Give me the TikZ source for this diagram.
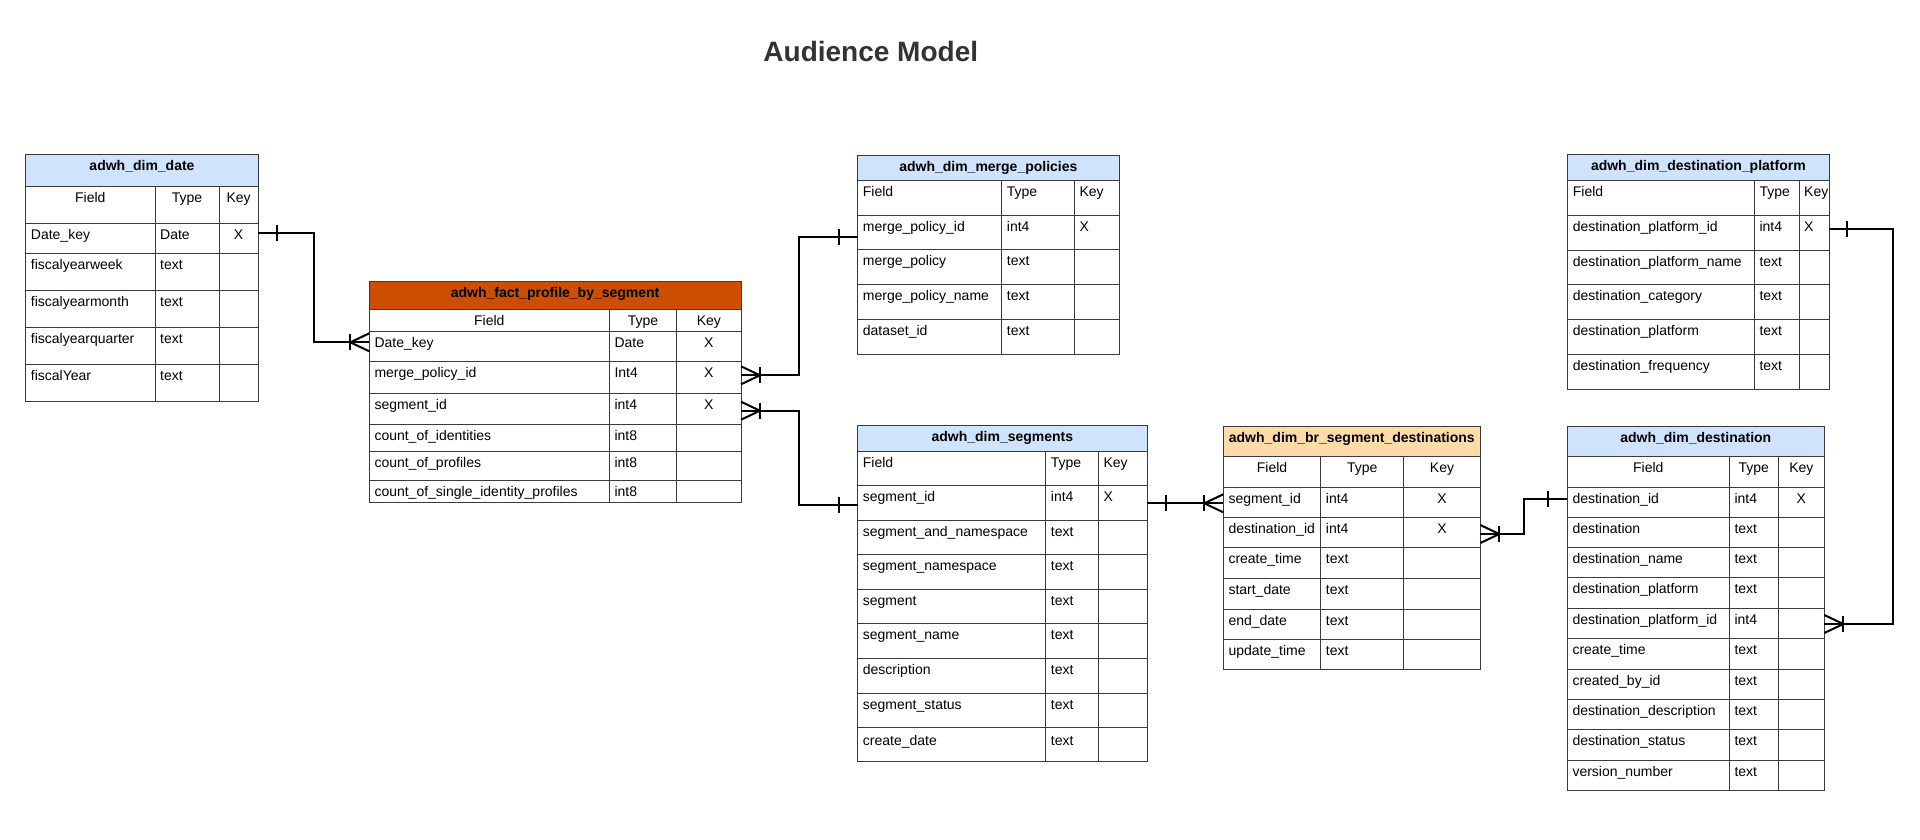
\documentclass[tikz,border=0pt]{standalone}
\usepackage{fontspec}
\setmainfont{Liberation Sans}
\usetikzlibrary{calc}
\definecolor{hblue}{HTML}{CFE3FD}
\definecolor{horange}{HTML}{CC4E00}
\definecolor{hpeach}{HTML}{FFDBA8}
\definecolor{linec}{HTML}{3A3A3A}
\definecolor{titlec}{HTML}{333333}

% table frame: #1 ytop, #2 yhead, #3 ybottom, #4 fill, #5 row lines, #6 name, #7 title
\newcommand\tframe[7]{%
  \fill[#4] (\xa,#1) rectangle (\xd,#2);
  \draw[tline] (\xa,#1) rectangle (\xd,#3);
  \draw[tline] (\xa,#2) -- (\xd,#2);
  \foreach \yy in {#5} {\draw[tline] (\xa,\yy) -- (\xd,\yy);}
  \foreach \xx in {\xb,\xc} {\draw[tline] (\xx,#2) -- (\xx,#3);}
  \node[hd,anchor=base] (#6) at ({(\xa+\xd)/2},#1+16) {#7};
}
\newcommand\hrowC[2]{%
  \node[tx,anchor=base] (#1F) at ({(\xa+\xb)/2},#2+16) {Field};
  \node[tx,anchor=base] (#1T) at ({(\xb+\xc)/2},#2+16) {Type};
  \node[tx,anchor=base] (#1K) at ({(\xc+\xd)/2},#2+16) {Key};
}
\newcommand\hrowL[2]{%
  \node[tx,anchor=base west] (#1F) at (\xa+5,#2+16) {Field};
  \node[tx,anchor=base west] (#1T) at (\xb+5,#2+16) {Type};
  \node[tx,anchor=base west] (#1K) at (\xc+5,#2+16) {Key};
}
\newcommand\drowC[5]{%
  \node[tx,anchor=base west] (#1f) at (\xa+5,#2+16) {#3};
  \node[tx,anchor=base west] (#1t) at (\xb+5,#2+16) {#4};
  \node[tx,anchor=base] (#1k) at ({(\xc+\xd)/2},#2+16) {#5};
}
\newcommand\drowL[5]{%
  \node[tx,anchor=base west] (#1f) at (\xa+5,#2+16) {#3};
  \node[tx,anchor=base west] (#1t) at (\xb+5,#2+16) {#4};
  \node[tx,anchor=base west] (#1k) at (\xc+5,#2+16) {#5};
}
\newcommand\onebar[2]{\draw[conn] ($(#1)+(#2,-8)$) -- ($(#1)+(#2,8)$);}
\newcommand\crowft[2]{\onebar{#1}{#2}%
  \draw[conn] ($(#1)+(0,-9)$) -- ($(#1)+(#2,0)$) -- ($(#1)+(0,9)$);}

\begin{document}
\begin{tikzpicture}[x=1pt,y=-1pt,
  tline/.style={draw=linec,line width=1pt},
  conn/.style={draw=black,line width=2pt},
  tx/.style={inner sep=0pt,font=\fontsize{14}{16}\selectfont},
  hd/.style={inner sep=0pt,font=\fontsize{14}{16}\selectfont\bfseries},
  ttl/.style={inner sep=0pt,font=\fontsize{28}{32}\selectfont\bfseries,text=titlec}]
\useasboundingbox (0,0) rectangle (1920,839);
\fill[white] (0,0) rectangle (1920,839);

\node[ttl,anchor=base] (title) at (870.8,61.7) {Audience Model};

% adwh_dim_date
\def\xa{25.7}\def\xb{155}\def\xc{219}\def\xd{258.3}
\tframe{154.3}{186}{401.7}{hblue}{223.3,253.3,290.3,327.3,364.3}{date}{adwh\_dim\_date}
\hrowC{dateh}{186}
\drowC{datea}{223.3}{Date\_key}{Date}{X}
\drowC{dateb}{253.3}{fiscalyearweek}{text}{}
\drowC{datec}{290.3}{fiscalyearmonth}{text}{}
\drowC{dated}{327.3}{fiscalyearquarter}{text}{}
\drowC{datee}{364.3}{fiscalYear}{text}{}

% adwh_fact_profile_by_segment
\def\xa{369.3}\def\xb{609.3}\def\xc{676.7}\def\xd{741}
\tframe{281.7}{309.3}{502.3}{horange}{331.7,361,393.3,424.3,451.7,480}{fact}{adwh\_fact\_profile\_by\_segment}
\hrowC{facth}{309.3}
\drowC{facta}{331.7}{Date\_key}{Date}{X}
\drowC{factb}{361}{merge\_policy\_id}{Int4}{X}
\drowC{factc}{393.3}{segment\_id}{int4}{X}
\drowC{factd}{424.3}{count\_of\_identities}{int8}{}
\drowC{facte}{451.7}{count\_of\_profiles}{int8}{}
\drowC{factf}{480}{count\_of\_single\_identity\_profiles}{int8}{}

% adwh_dim_merge_policies
\def\xa{857.7}\def\xb{1001.7}\def\xc{1074.3}\def\xd{1119}
\tframe{155}{180}{354.3}{hblue}{215,249.7,284.7,319.3}{merge}{adwh\_dim\_merge\_policies}
\hrowL{mergeh}{180}
\drowL{mergea}{215}{merge\_policy\_id}{int4}{X}
\drowL{mergeb}{249.7}{merge\_policy}{text}{}
\drowL{mergec}{284.7}{merge\_policy\_name}{text}{}
\drowL{merged}{319.3}{dataset\_id}{text}{}

% adwh_dim_segments
\def\xa{857.7}\def\xb{1045.7}\def\xc{1098.3}\def\xd{1147}
\tframe{425.7}{451}{761}{hblue}{485.7,520.3,554.7,589.3,623.7,658.3,693,727.3}{seg}{adwh\_dim\_segments}
\hrowL{segh}{451}
\drowL{sega}{485.7}{segment\_id}{int4}{X}
\drowL{segb}{520.3}{segment\_and\_namespace}{text}{}
\drowL{segc}{554.7}{segment\_namespace}{text}{}
\drowL{segd}{589.3}{segment}{text}{}
\drowL{sege}{623.7}{segment\_name}{text}{}
\drowL{segf}{658.3}{description}{text}{}
\drowL{segg}{693}{segment\_status}{text}{}
\drowL{segi}{729.3}{create\_date}{text}{}

% adwh_dim_br_segment_destinations
\def\xa{1223.3}\def\xb{1320.7}\def\xc{1403.7}\def\xd{1480.3}
\tframe{426}{456.7}{669}{hpeach}{487.3,517.3,547.7,578.3,609,639}{br}{adwh\_dim\_br\_segment\_destinations}
\hrowC{brh}{456.7}
\drowC{bra}{487.3}{segment\_id}{int4}{X}
\drowC{brb}{517.3}{destination\_id}{int4}{X}
\drowC{brc}{547.7}{create\_time}{text}{}
\drowC{brd}{578.3}{start\_date}{text}{}
\drowC{bre}{609}{end\_date}{text}{}
\drowC{brf}{639}{update\_time}{text}{}

% adwh_dim_destination_platform
\def\xa{1567.7}\def\xb{1754.3}\def\xc{1799}\def\xd{1829}
\tframe{154.3}{180}{389.3}{hblue}{215,250,284.7,319.7,354.3}{plat}{adwh\_dim\_destination\_platform}
\hrowL{plath}{180}
\drowL{plata}{215}{destination\_platform\_id}{int4}{X}
\drowL{platb}{250}{destination\_platform\_name}{text}{}
\drowL{platc}{284.7}{destination\_category}{text}{}
\drowL{platd}{319.7}{destination\_platform}{text}{}
\drowL{plate}{354.3}{destination\_frequency}{text}{}

% adwh_dim_destination
\def\xa{1567.3}\def\xb{1729.3}\def\xc{1778.3}\def\xd{1824.3}
\tframe{426}{456.7}{790}{hblue}{487.3,517.3,547.3,577.7,608.3,638.7,669,699.3,729.7,760}{dest}{adwh\_dim\_destination}
\hrowC{desth}{456.7}
\drowC{desta}{487.3}{destination\_id}{int4}{X}
\drowC{destb}{517.3}{destination}{text}{}
\drowC{destc}{547.3}{destination\_name}{text}{}
\drowC{destd}{577.7}{destination\_platform}{text}{}
\drowC{deste}{608.3}{destination\_platform\_id}{int4}{}
\drowC{destf}{638.7}{create\_time}{text}{}
\drowC{destg}{669}{created\_by\_id}{text}{}
\drowC{desti}{699.3}{destination\_description}{text}{}
\drowC{destj}{729.7}{destination\_status}{text}{}
\drowC{destk}{760}{version\_number}{text}{}

% connector end points
\coordinate (c1a) at (258.3,232.7);
\coordinate (c1b) at (369.3,342.3);
\coordinate (c2a) at (741,375.3);
\coordinate (c2b) at (857.7,236.7);
\coordinate (c3a) at (741,410.7);
\coordinate (c3b) at (857.7,505);
\coordinate (c4a) at (1147,503.3);
\coordinate (c4b) at (1223.3,503.3);
\coordinate (c5a) at (1480.3,534);
\coordinate (c5b) at (1567.3,499);
\coordinate (c6a) at (1829,229);
\coordinate (c6b) at (1824.3,624);
\coordinate (c6m) at (1892.7,624);

\draw[conn] (c1a) -| ($(c1a)!.5!(c1b)$) |- (c1b);
\draw[conn] (c2a) -| ($(c2a)!.5!(c2b)$) |- (c2b);
\draw[conn] (c3a) -| ($(c3a)!.5!(c3b)$) |- (c3b);
\draw[conn] (c4a) -- (c4b);
\draw[conn] (c5a) -| ($(c5a)!.5!(c5b)$) |- (c5b);
\draw[conn] (c6a) -| (c6m) -- (c6b);

\onebar{c1a}{19} \crowft{c1b}{-19}
\crowft{c2a}{19} \onebar{c2b}{-19}
\crowft{c3a}{19} \onebar{c3b}{-19}
\onebar{c4a}{19} \crowft{c4b}{-19}
\crowft{c5a}{19} \onebar{c5b}{-19}
\onebar{c6a}{18} \crowft{c6b}{19}
\end{tikzpicture}
\end{document}
